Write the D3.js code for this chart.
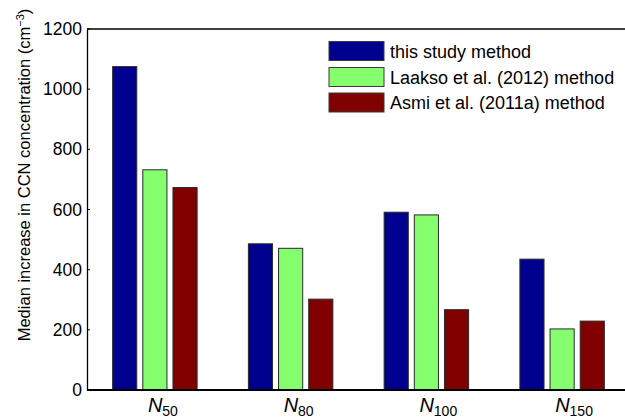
<!DOCTYPE html>
<html>
<head>
<meta charset="utf-8">
<script src="https://cdn.jsdelivr.net/npm/d3@7"></script>
<style>
  html, body { margin: 0; padding: 0; background: #fff; overflow: hidden; }
  text { font-family: Arial, "Liberation Sans", Helvetica, sans-serif; fill: #000; }
</style>
</head>
<body>
<svg id="chart" width="625" height="420"></svg>
<script>
const categories = ["50", "80", "100", "150"];
const seriesNames = ["this study method", "Laakso et al. (2012) method", "Asmi et al. (2011a) method"];
const thisStudy = [1075, 486, 591, 435];
const laakso = [732, 471, 582, 203];
const asmi = [673, 302, 267, 229];
const yTicks = [0, 200, 400, 600, 800, 1000, 1200];
const colors = ["#00008f", "#86ff6e", "#800000"];

const series = [thisStudy, laakso, asmi];
const svg = d3.select("#chart");

const x = d3.scaleLinear().domain([0.5, 4.5]).range([87, 630]);
const y = d3.scaleLinear().domain([0, 1200]).range([390, 29]);

const groupWidth = Math.min(0.8, 3 / (3 + 1.5));
const barW = groupWidth / 3 * 0.8;

// bars
series.forEach((vals, si) => {
  const off = (si + 1 - 1.5 - 0.5) * groupWidth / 3;
  svg.append("g").selectAll("rect")
    .data(vals)
    .join("rect")
    .attr("x", (d, i) => x(i + 1 + off - barW / 2))
    .attr("width", x(barW) - x(0))
    .attr("y", d => y(d))
    .attr("height", d => y(0) - y(d))
    .attr("fill", colors[si])
    .attr("stroke", "#2a2a2a")
    .attr("stroke-width", 1);
});

// axes
const yAxis = d3.axisLeft(y).tickValues(yTicks).tickSize(0).tickPadding(5).tickFormat(d3.format("d"));
const gy = svg.append("g").attr("transform", `translate(87,0)`).call(yAxis);
gy.select(".domain").attr("stroke", "#000").attr("stroke-width", 1.3);
gy.selectAll("text").attr("font-size", 17.5).style("font-family", "Arial, 'Liberation Sans', sans-serif");
svg.append("g").selectAll("line").data(yTicks).join("line")
  .attr("x1", 87).attr("x2", 90).attr("y1", d => y(d)).attr("y2", d => y(d))
  .attr("stroke", "#000").attr("stroke-width", 1);

// top box line and bottom axis
svg.append("line").attr("x1", 87).attr("x2", 630).attr("y1", y(1200)).attr("y2", y(1200))
  .attr("stroke", "#000").attr("stroke-width", 1.3);
svg.append("line").attr("x1", 87).attr("x2", 630).attr("y1", y(0)).attr("y2", y(0))
  .attr("stroke", "#000").attr("stroke-width", 2);

// x category labels
const xl = svg.append("g").selectAll("text").data(categories).join("text")
  .attr("x", (d, i) => x(i + 1) - 7)
  .attr("y", 412)
  .attr("text-anchor", "start")
  .attr("font-size", 20);
xl.append("tspan").attr("font-style", "italic").text("N");
xl.append("tspan").attr("font-size", 14).attr("dy", 4).text(d => d);

// y label
const yl = svg.append("text")
  .attr("transform", "translate(30,175) rotate(-90)")
  .attr("text-anchor", "middle")
  .attr("font-size", 16.5);
yl.append("tspan").text("Median increase in CCN concentration (cm");
yl.append("tspan").attr("font-size", 11).attr("dy", -6).text("−3");
yl.append("tspan").attr("dy", 6).text(")");

// legend
const lg = svg.append("g");
const legY = [41.5, 67.5, 93];
seriesNames.forEach((name, i) => {
  lg.append("rect").attr("x", 329).attr("y", legY[i]).attr("width", 55).attr("height", 19)
    .attr("fill", colors[i]).attr("stroke", "#3a3a3a").attr("stroke-width", 1);
  lg.append("text").attr("x", 390).attr("y", legY[i] + 16).attr("font-size", 18).text(name);
});
</script>
</body>
</html>
